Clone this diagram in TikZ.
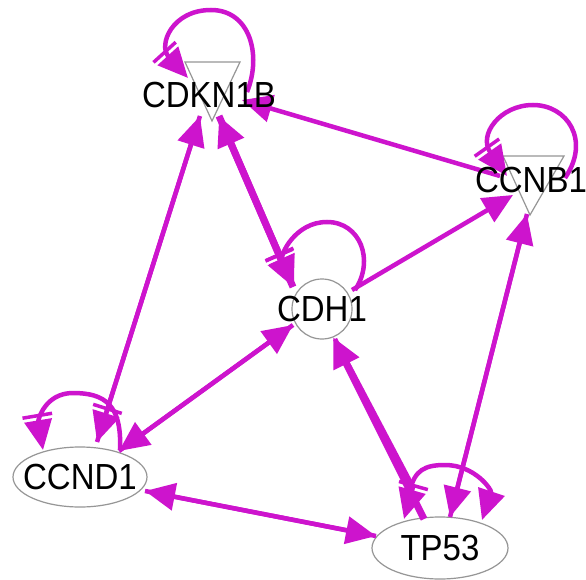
\documentclass[tikz,border=0pt]{standalone}
\usepackage{fontspec}
\setmainfont{Liberation Sans}
\usetikzlibrary{arrows.meta,calc,shapes.geometric}
\definecolor{mag}{RGB}{205,20,205}
\definecolor{ngray}{RGB}{150,150,150}
\begin{document}
\begin{tikzpicture}[x=1pt,y=-1pt,
  edge/.style={draw=mag,line width=4.5pt},
  thickedge/.style={draw=mag,line width=7pt},
  tri/.style={-{Triangle[length=30pt,width=27pt]}},
  bartri/.style={-{Bar[width=30pt,line width=3.5pt,sep=3pt]Triangle[length=30pt,width=27pt]}},
  nodeline/.style={draw=ngray,line width=1.2pt,fill=white},
  anchorpt/.style={inner sep=0pt,minimum size=0pt},
  lbl/.style={font=\fontsize{33}{33}\selectfont,inner sep=0pt,text=black}
]
\useasboundingbox (0,0) rectangle (586,580);
\fill[white] (0,0) rectangle (586,580);

% ---- node shapes ----
\node[anchorpt] (cdkn1b) at (209,95) {};
\draw[nodeline] ($(cdkn1b)+(-24,-33)$) -- ($(cdkn1b)+(31,-33)$) -- ($(cdkn1b)+(3,26)$) -- cycle;
\node[anchorpt] (ccnb1) at (531,180) {};
\draw[nodeline] ($(ccnb1)+(-28,-24)$) -- ($(ccnb1)+(33,-24)$) -- ($(ccnb1)+(-1,35)$) -- cycle;
\node[nodeline,circle,minimum size=60pt,inner sep=0pt] (cdh1) at (322,309) {};
\node[nodeline,ellipse,minimum width=134pt,minimum height=60pt,inner sep=0pt] (ccnd1) at (80,477) {};
\node[nodeline,ellipse,minimum width=136pt,minimum height=62pt,inner sep=0pt] (tp53) at (440,548) {};

% ---- self loops ----
\draw[edge,bartri] ($(cdkn1b)+(38,-3)$) .. controls ($(cdkn1b)+(53,-40)$) and ($(cdkn1b)+(41,-85)$) .. ($(cdkn1b)+(2,-85)$)
  .. controls ($(cdkn1b)+(-37,-85)$) and ($(cdkn1b)+(-51,-50)$) .. ($(cdkn1b)+(-21,-17)$);
\draw[edge,bartri] ($(ccnb1)+(34,-2)$) .. controls ($(ccnb1)+(60,-40)$) and ($(ccnb1)+(36,-75)$) .. ($(ccnb1)+(2,-75)$)
  .. controls ($(ccnb1)+(-31,-75)$) and ($(ccnb1)+(-53,-45)$) .. ($(ccnb1)+(-24,-4)$);
\draw[edge,bartri] ($(cdh1)+(33,-19)$) .. controls ($(cdh1)+(53,-49)$) and ($(cdh1)+(38,-87)$) .. ($(cdh1)+(5,-87)$)
  .. controls ($(cdh1)+(-27,-87)$) and ($(cdh1)+(-42,-54)$) .. ($(cdh1)+(-28,-23)$);
\draw[edge,bartri] ($(ccnd1)+(40,-27)$) .. controls ($(ccnd1)+(42,-72)$) and ($(ccnd1)+(25,-84)$) .. ($(ccnd1)+(-7,-84)$)
  .. controls ($(ccnd1)+(-35,-84)$) and ($(ccnd1)+(-42,-57)$) .. ($(ccnd1)+(-37,-27)$);
\draw[edge,tri] ($(tp53)+(-30,-58)$) .. controls ($(tp53)+(-25,-78)$) and ($(tp53)+(-15,-83)$) .. ($(tp53)+(5,-83)$)
  .. controls ($(tp53)+(35,-83)$) and ($(tp53)+(52,-58)$) .. ($(tp53)+(42,-28)$);

% ---- connectors ----
% CCND1 <-> CDKN1B
\draw[edge,bartri] ($(cdkn1b)+(-9,21)$) -- ($(ccnd1)+(17,-35)$);
\draw[edge,tri] ($(ccnd1)+(17,-35)$) -- ($(cdkn1b)+(-9,21)$);
% CDKN1B <-> CDH1
\draw[thickedge,bartri] ($(cdkn1b)+(10,21)$) -- ($(cdh1)+(-29,-22)$);
\draw[thickedge,tri] ($(cdh1)+(-29,-22)$) -- ($(cdkn1b)+(10,21)$);
% CCNB1 -> CDKN1B
\draw[edge,tri] ($(ccnb1)+(-31,-4)$) -- ($(cdkn1b)+(33,5)$);
% CDH1 -> CCNB1
\draw[edge,tri] ($(cdh1)+(30,-19)$) -- ($(ccnb1)+(-18,15)$);
% CDH1 <-> CCND1
\draw[edge,tri] ($(ccnd1)+(39,-26)$) -- ($(cdh1)+(-29,16)$);
\draw[edge,tri] ($(cdh1)+(-29,16)$) -- ($(ccnd1)+(39,-26)$);
% CDH1 <-> TP53
\draw[thickedge,tri] ($(tp53)+(-16,-29)$) -- ($(cdh1)+(11,28)$);
\draw[edge,bartri] ($(cdh1)+(13,30)$) -- ($(tp53)+(-27,-61)$) -- ($(tp53)+(-36,-29)$);
% CCNB1 <-> TP53
\draw[edge,tri] ($(tp53)+(10,-31)$) -- ($(ccnb1)+(-4,34)$);
\draw[edge,tri] ($(ccnb1)+(-4,34)$) -- ($(tp53)+(10,-31)$);
% CCND1 <-> TP53
\draw[edge,tri] ($(tp53)+(-64,-12)$) -- ($(ccnd1)+(65,14)$);
\draw[edge,tri] ($(ccnd1)+(65,14)$) -- ($(tp53)+(-64,-12)$);

% ---- labels ----
\node[lbl] (cdkn1bL) at (cdkn1b) {\scalebox{1}[1.1]{CDKN1B}};
\node[lbl] (ccnb1L) at (ccnb1) {\scalebox{1}[1.1]{CCNB1}};
\node[lbl] (cdh1L) at (cdh1) {\scalebox{1}[1.1]{CDH1}};
\node[lbl] (ccnd1L) at (ccnd1) {\scalebox{1}[1.1]{CCND1}};
\node[lbl] (tp53L) at (tp53) {\scalebox{1}[1.1]{TP53}};
\end{tikzpicture}
\end{document}
